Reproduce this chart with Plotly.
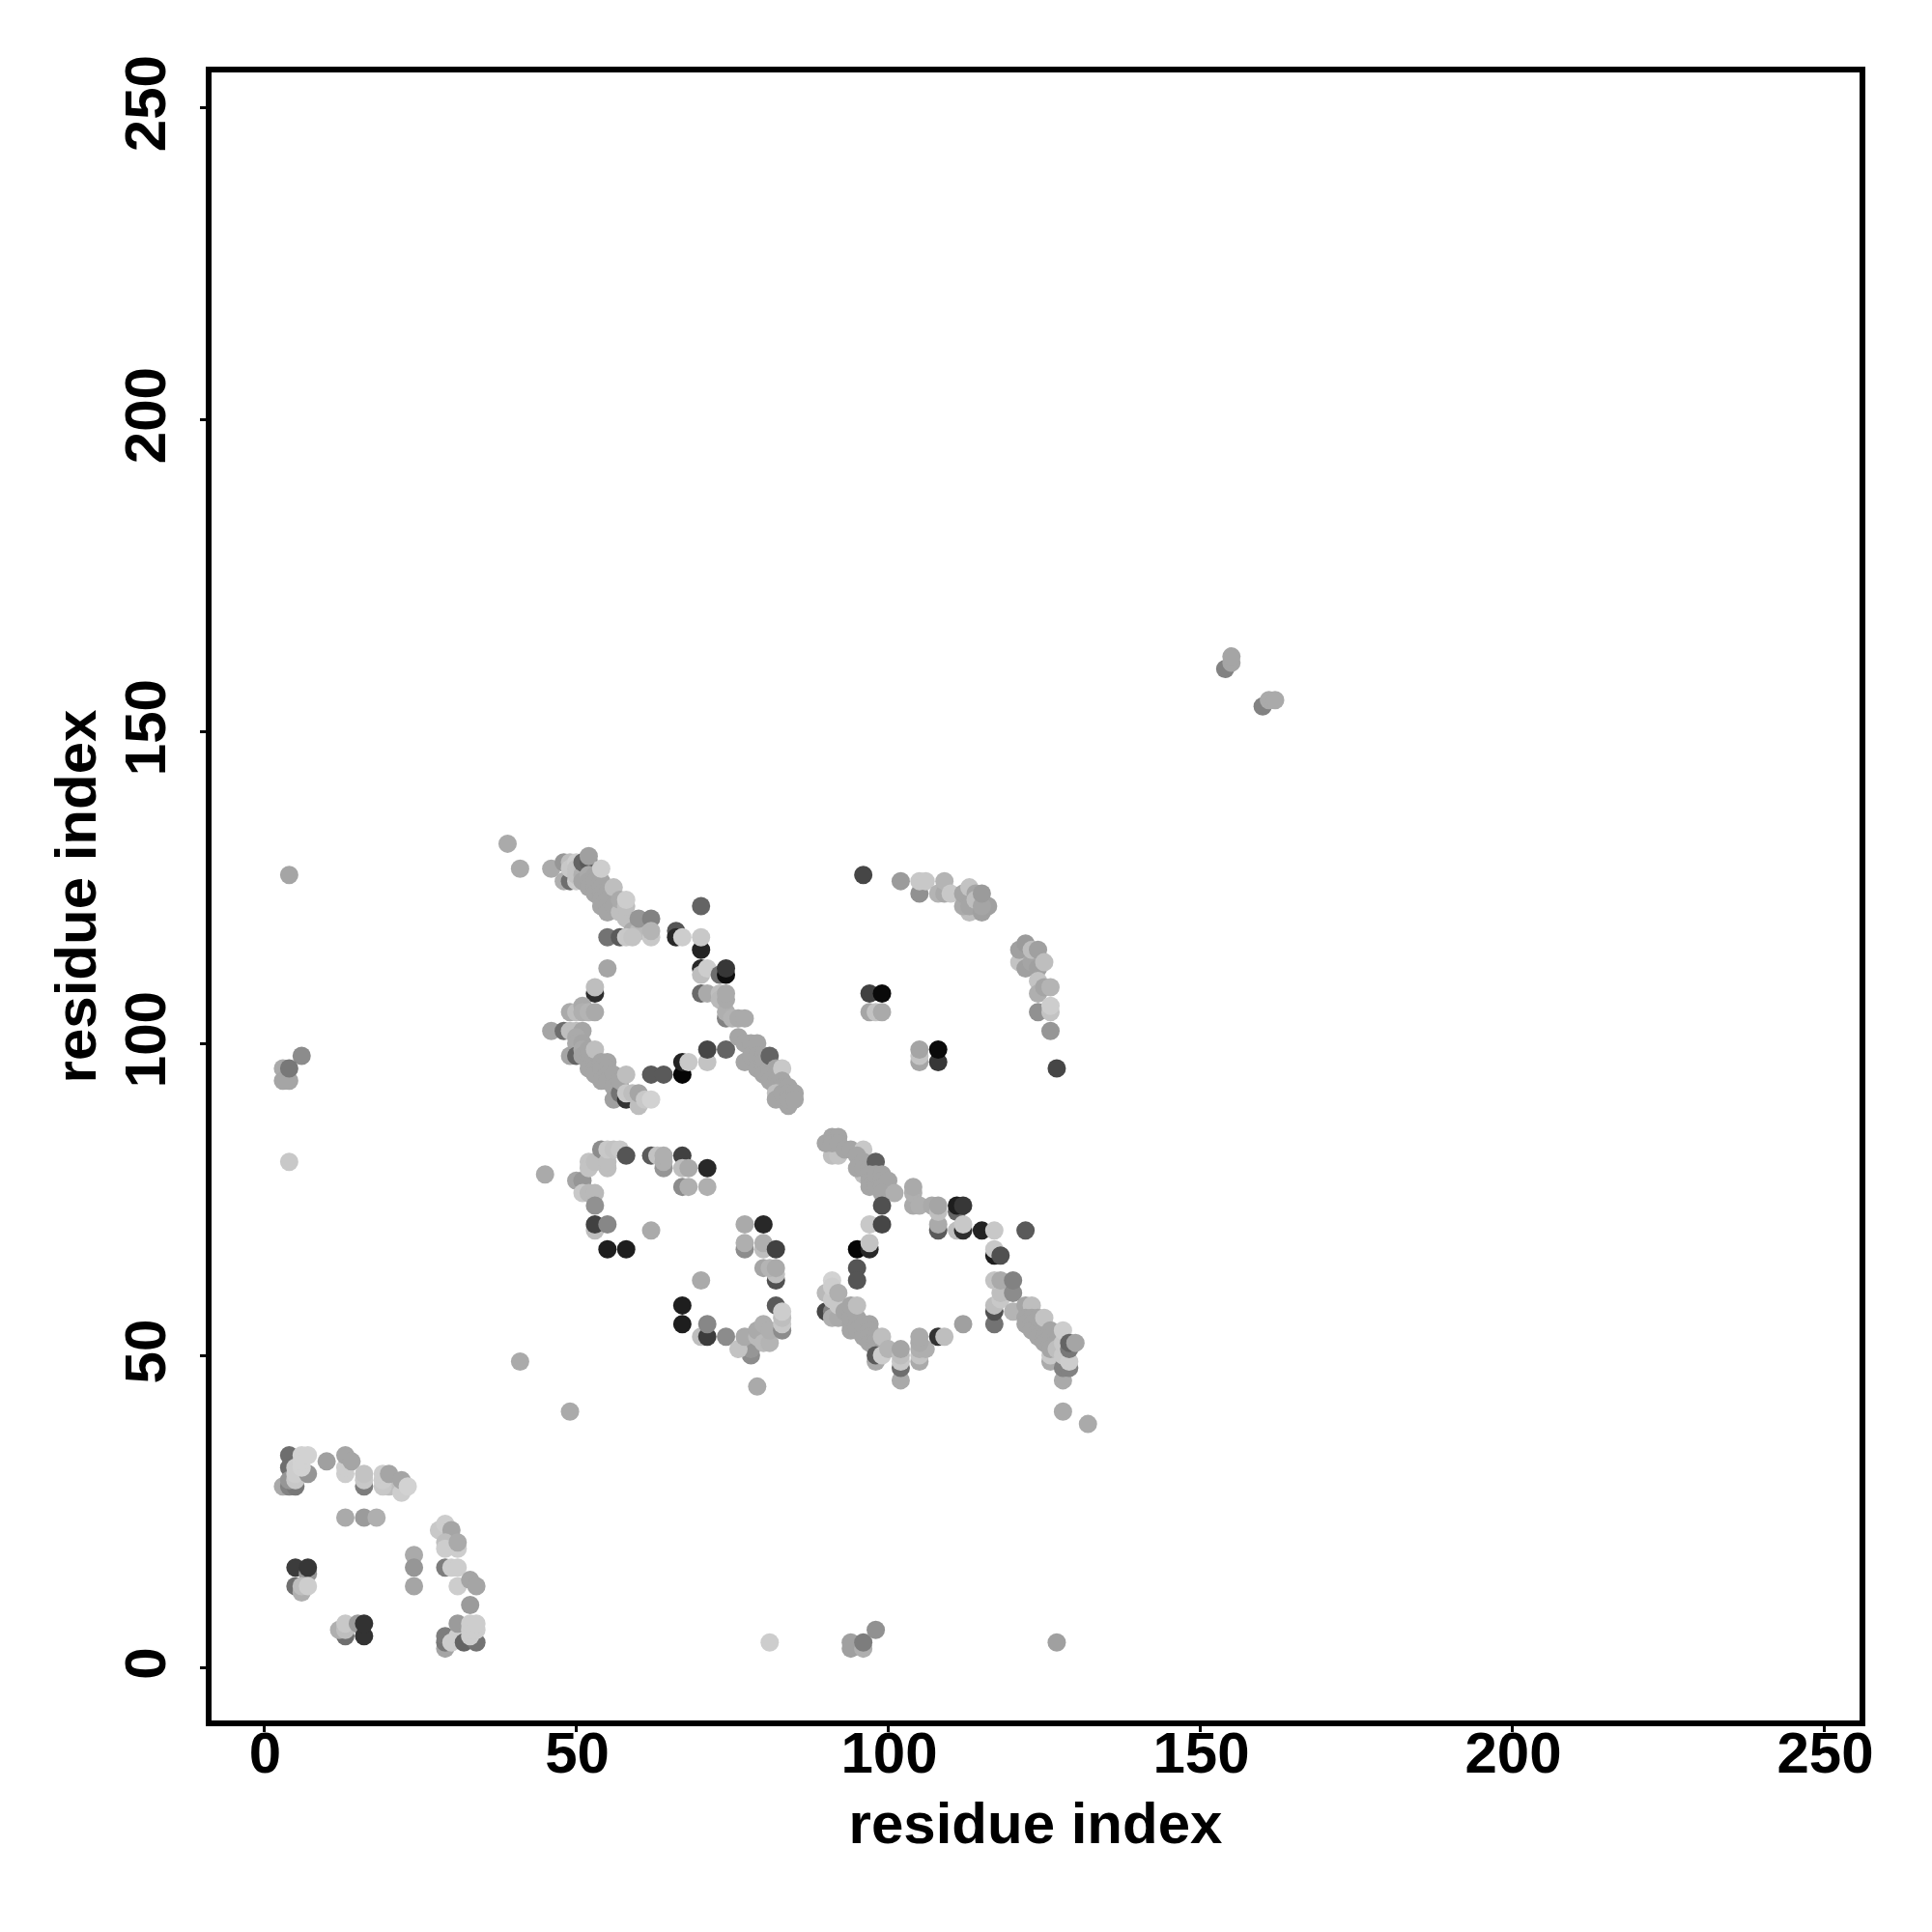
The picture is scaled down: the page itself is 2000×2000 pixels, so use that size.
import plotly.graph_objects as go

# (residue i, residue j, grey level) in drawing order
corner_contacts = [
    (3,29,170),(4,29,130),(5,29,120),(4,34,110),(4,32,110),(4,30,150),(5,30,200),(5,32,205),(5,31,205),
    (7,31,150),(6,32,210),(6,33,210),(6,34,210),(7,34,210),(10,33,160),
    (13,31,205),(13,32,205),(13,34,165),(14,33,165),(16,29,125),(16,30,200),(16,31,195),
    (20,29,190),(19,29,200),(19,30,205),(19,31,205),(20,31,165),(22,28,205),(22,30,165),(23,29,210),
    (13,24,170),(16,24,155),(18,24,175),
    (28,22,200),(29,23,205),(30,22,165),(29,20,190),(29,19,205),(31,19,205),(31,20,170),
    (24,18,170),(24,16,150),(24,13,165),
    (29,16,125),(30,16,205),(31,16,205),(31,13,205),(33,14,165),(34,13,165),(33,10,155),
    (5,16,60),(7,15,150),(7,16,55),(5,13,110),(6,12,175),(6,13,190),(7,13,205),
    (13,5,110),(12,6,175),(13,6,190),(13,7,200),(15,7,155),(16,5,50),(16,7,50),
    (29,3,165),(29,4,120),(29,5,125),(30,4,205),(31,5,205),(32,4,100),(34,4,115),(31,7,155),
    (33,5,205),(33,6,205),(33,7,205),(34,6,205),(34,7,205),
]

isolated_contacts = [
    (41,49,170),(49,41,170),(45,79,170),(62,70,170),(70,62,170),(79,45,170),
    (4,127,165),(6,98,140),(3,96,170),(3,94,165),(4,94,165),(4,96,120),(4,81,200),
    (81,4,205),(94,4,160),(94,3,160),(96,3,175),(96,4,125),(98,6,145),(127,4,160),
    (154,160,130),(155,161,165),(155,162,165),(160,154,130),(161,155,170),(162,155,170),
    (39,132,170),(41,128,170),(46,128,170),(96,127,70),(127,96,70),
    (128,41,170),(132,39,170),(112,55,160),(122,70,90),(55,112,165),
]

upper_diagonal = [
    (48,129,150),(48,126,175),(49,126,110),(49,129,190),(49,128,200),(50,129,205),(50,126,205),
    (50,128,195),(50,127,195),(51,128,190),(51,127,175),(51,129,100),(52,129,90),(52,130,160),
    (51,126,165),(52,127,170),(52,126,165),(52,125,165),(53,127,165),(53,126,165),(53,125,165),(53,124,165),
    (54,126,165),(54,125,165),(54,124,165),(54,123,165),(54,122,165),(55,124,165),(55,123,165),(55,122,165),(55,121,165),
    (54,128,205),(56,122,165),(56,125,190),(57,121,190),(57,123,170),(58,120,190),(58,122,190),(58,123,205),
    (55,117,115),(57,117,90),(59,118,170),(60,118,185),(58,117,200),(59,117,195),(60,120,150),(62,120,130),(62,117,200),(62,118,180),
    (66,118,85),(66,117,40),(67,117,205),(70,122,100),(70,115,35),(70,117,200),
    (70,112,40),(70,111,190),(71,112,205),(73,111,110),(74,111,15),(74,112,55),
    (70,108,105),(71,108,170),(73,108,190),(73,107,185),(74,104,130),(74,105,175),(74,107,170),(74,108,170),
    (75,104,180),(76,104,170),(77,104,170),
]

left_arc = [
    (53,108,45),(53,109,190),(49,105,170),(50,105,190),(51,106,170),(51,105,175),(52,105,180),(53,105,170),
    (46,102,165),(48,102,110),(49,102,190),(50,102,190),(51,102,165),(50,101,170),(50,100,170),(51,100,165),
    (49,98,165),(50,98,100),(51,99,170),(51,98,165),(52,98,165),(52,97,165),(52,96,165),(53,97,165),(53,96,165),(53,95,165),
    (52,99,165),(53,99,190),(54,97,165),(54,96,165),(55,97,165),(55,96,165),
    (54,94,165),(55,95,165),(55,94,165),(56,95,165),(56,93,165),(57,93,165),(56,91,160),(57,92,115),(57,94,165),(58,91,50),(58,95,190),(58,92,200),(59,92,190),
    (60,90,190),(60,92,165),(61,91,200),(62,91,210),
    (62,95,90),(64,95,90),(67,95,5),(67,97,35),(68,97,200),(71,97,195),(71,99,70),(74,99,100),
]

central_diagonal = [
    (76,101,165),(77,100,165),(78,100,165),(77,97,165),(78,98,165),(79,100,165),(79,98,165),(79,96,165),
    (80,98,165),(80,97,165),(80,96,165),(80,95,165),(81,96,165),(81,95,165),(81,94,165),(81,98,100),(82,96,165),(82,95,165),(82,94,165),(82,93,165),
    (83,96,200),(83,94,165),(83,93,165),(83,91,165),
    (82,92,190),(82,91,165),(83,92,165),(84,93,165),(84,92,165),(84,90,165),(84,91,165),(85,92,165),(85,91,165),
]

mid_left_group = [
    (50,78,165),(51,78,150),(51,76,200),(52,76,185),(53,76,185),(52,81,195),(52,80,195),(53,81,190),
    (55,80,190),(54,83,140),(55,81,190),(55,83,200),(56,83,195),(57,83,200),(58,82,85),
    (53,74,145),(53,70,190),(53,71,65),(55,71,135),(55,67,30),(58,67,30),
    (62,82,90),(63,82,195),(64,80,150),(64,81,175),(64,82,175),
    (67,82,65),(67,80,190),(68,80,170),(71,80,40),(67,77,140),(68,77,175),(71,77,175),
    (77,71,170),(80,71,40),(77,67,140),(77,68,175),(80,67,190),(80,68,175),(82,67,65),
    (82,62,80),(82,63,190),(80,64,165),(81,64,180),(82,64,170),
    (67,58,30),(67,55,30),(70,53,190),(71,53,60),(71,55,135),(74,53,140),
    (78,50,140),(78,51,150),(76,51,195),(77,53,170),(79,53,185),(79,54,170),(80,52,185),(81,52,180),
    (80,55,175),(81,54,175),(82,58,90),(83,54,140),(83,55,200),(83,56,190),(83,57,205),
]

lower_diagonal = [
    (91,82,190),(92,82,195),(90,84,165),(91,85,165),(92,85,165),(91,84,165),(92,84,165),(93,83,165),(94,83,165),
    (96,83,200),(95,82,165),(96,79,190),(95,80,165),(96,81,165),(96,80,165),(97,80,165),(98,81,95),(97,79,165),(97,78,165),(97,77,165),(98,78,165),(98,77,165),(98,79,165),
    (99,79,165),(99,78,165),(99,77,165),(100,78,165),(99,76,165),(101,76,175),(99,74,80),
    (97,71,200),(99,71,70),(95,67,5),(97,67,40),(97,68,195),(95,64,85),(95,62,85),
    (104,74,170),(104,76,175),(104,77,170),(105,74,175),(107,74,170),(108,70,90),(108,71,170),(108,73,190),(108,74,165),
    (111,73,100),(111,74,30),(112,74,55),(111,70,190),(112,70,45),(112,71,200),(115,70,35),(117,70,200),
    (117,66,30),(117,67,200),(118,66,80),
]

lower_arc = [
    (90,60,185),(90,57,70),(91,57,130),(91,56,175),(92,56,170),(91,59,200),(92,58,200),(91,62,210),(91,61,205),(92,60,175),
    (93,57,165),(94,57,165),(94,55,165),(94,54,165),(94,56,165),(94,58,165),(95,56,165),(95,55,165),(95,54,165),(95,58,190),
    (96,54,165),(96,53,165),(96,55,165),(97,55,165),(97,54,165),(97,53,165),(97,52,165),(98,53,165),(98,52,165),(98,51,165),(99,53,190),
    (98,49,170),(98,50,90),(99,50,205),(100,51,180),(102,46,170),(102,48,110),(102,49,200),(102,50,190),(102,51,165),
    (105,49,170),(105,50,195),(105,51,175),(106,51,175),(105,52,170),(105,53,170),(108,53,50),(109,53,190),
]

right_diagonal = [
    (117,55,115),(117,57,80),(117,58,190),(118,59,200),(118,60,190),(117,62,195),(118,62,170),(120,60,140),(120,62,130),(120,57,180),
    (122,58,165),(123,58,190),(122,56,165),(123,56,165),(122,55,165),(123,55,165),(123,54,165),(124,54,165),(124,53,165),(124,56,165),
    (125,54,165),(125,53,165),(125,52,165),(125,56,195),(126,54,165),(126,53,165),(126,52,165),(127,53,165),(127,52,165),
    (126,49,170),(126,50,200),(126,51,165),(127,51,190),(128,46,170),(128,48,130),(129,48,130),(128,50,200),(129,49,205),
    (128,52,200),(128,54,205),(129,51,120),(129,52,100),(130,52,165),
]

upper_right_arc = [
    (102,126,155),(105,124,145),(105,126,200),(106,126,200),(108,124,180),(109,124,170),(109,126,180),(110,124,200),
    (113,121,190),(112,122,170),(112,124,165),(113,122,165),(113,125,195),(114,124,165),(114,123,190),(115,121,160),(116,122,160),(115,122,165),(115,124,155),
    (121,113,195),(121,115,160),(122,116,155),(122,112,160),(123,113,165),(124,112,160),(123,115,190),(124,115,160),(125,113,190),
    (124,110,195),(124,108,175),(125,109,165),(126,109,180),(124,105,145),(126,105,195),(126,106,205),(126,102,150),
    (97,108,65),(99,108,10),(97,105,165),(98,105,195),(99,105,170),
    (105,97,165),(105,98,195),(105,99,165),(108,97,55),(108,99,10),
]

contact_groups = [corner_contacts, isolated_contacts, upper_diagonal, left_arc, central_diagonal,
                  mid_left_group, lower_diagonal, lower_arc, right_diagonal, upper_right_arc]
contacts = [c for group in contact_groups for c in group]
residue_i = [c[0] for c in contacts]
residue_j = [c[1] for c in contacts]
grey_level = [c[2] for c in contacts]

tick_values = [0, 50, 100, 150, 200, 250]
axis_title = "residue index"

font = "Liberation Sans, Arial, sans-serif"

fig = go.Figure(go.Scatter(
    x=residue_i, y=residue_j, mode="markers",
    marker=dict(size=19, color=[f"rgb({g},{g},{g})" for g in grey_level], line=dict(width=0)),
    hoverinfo="skip",
))

axis_style = dict(
    tickvals=tick_values, ticks="outside", ticklen=6, tickwidth=3, tickcolor="black",
    showline=True, linewidth=6, linecolor="black", mirror=True,
    showgrid=False, zeroline=False,
    tickfont=dict(family=font, size=60, color="black", weight="bold"),
)
fig.update_xaxes(range=[-8.44, 255.65], ticklabelstandoff=-30, ticklabelshift=1, title=dict(text=axis_title, standoff=21,
                 font=dict(family=font, size=60, color="black", weight="bold")), **axis_style)
fig.update_yaxes(range=[-8.51, 255.6], tickangle=-90, ticklabelstandoff=12, ticklabelshift=5, title=dict(text=axis_title, standoff=0,
                 font=dict(family=font, size=60, color="black", weight="bold")), **axis_style)
fig.update_layout(
    width=2000, height=2000, autosize=False,
    margin=dict(l=211, r=83, t=67, b=227, autoexpand=False),
    paper_bgcolor="white", plot_bgcolor="white", showlegend=False,
)
fig.write_html("out.html")
